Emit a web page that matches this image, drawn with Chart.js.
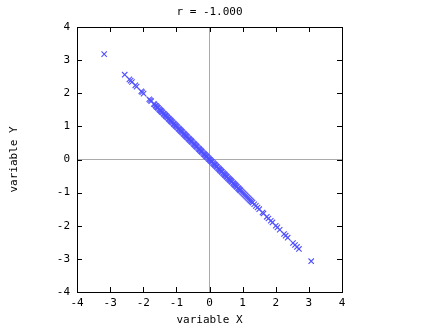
<!DOCTYPE html>
<html>
<head>
<meta charset="utf-8">
<script src="https://cdn.jsdelivr.net/npm/chart.js@4"></script>
<style>
  html, body { margin: 0; padding: 0; background: #fff; }
  #wrap { width: 448px; height: 336px; }
</style>
</head>
<body>
<div id="wrap"><canvas id="scatter" width="448" height="336"></canvas></div>
<script>
// values (dense band in the middle, sparse tails)
const xValues = [
  -3.18, -2.56, -2.42, -2.38, -2.34, -2.24, -2.20, -2.06, -2.03, -1.99, -1.82, -1.79, -1.76,
  -1.68, -1.66, -1.63, -1.61, -1.59, -1.57, -1.55, -1.52, -1.50, -1.48, -1.46, -1.44, -1.42,
  -1.39, -1.37, -1.35, -1.33, -1.31, -1.29, -1.27, -1.24, -1.22, -1.20, -1.18, -1.16, -1.14,
  -1.12, -1.09, -1.07, -1.05, -1.03, -1.01, -0.99, -0.97, -0.94, -0.92, -0.90, -0.88, -0.86,
  -0.84, -0.82, -0.79, -0.77, -0.75, -0.73, -0.71, -0.69, -0.67, -0.64, -0.62, -0.60, -0.58,
  -0.56, -0.54, -0.52, -0.49, -0.47, -0.45, -0.43, -0.41, -0.39, -0.37, -0.34, -0.32, -0.30,
  -0.28, -0.26, -0.24, -0.22, -0.19, -0.17, -0.15, -0.13, -0.11, -0.09, -0.07, -0.04, -0.02,
  0.00, 0.02, 0.04, 0.06, 0.08, 0.11, 0.13, 0.15, 0.17, 0.19, 0.21, 0.23, 0.26, 0.28, 0.30,
  0.32, 0.34, 0.36, 0.38, 0.41, 0.43, 0.45, 0.47, 0.49, 0.51, 0.53, 0.56, 0.58, 0.60, 0.62,
  0.64, 0.66, 0.68, 0.71, 0.73, 0.75, 0.77, 0.79, 0.81, 0.83, 0.86, 0.88, 0.90, 0.92, 0.94,
  0.97, 1.00, 1.03, 1.06, 1.09, 1.12, 1.15, 1.18, 1.21, 1.24, 1.27, 1.30,
  1.35, 1.40, 1.45, 1.50, 1.60, 1.63, 1.73, 1.78, 1.85, 1.90, 2.00, 2.05, 2.12, 2.25, 2.30,
  2.36, 2.52, 2.58, 2.64, 2.70, 3.07
];
const yValues = [
  3.18, 2.56, 2.42, 2.38, 2.34, 2.24, 2.20, 2.06, 2.03, 1.99, 1.82, 1.79, 1.76,
  1.68, 1.66, 1.63, 1.61, 1.59, 1.57, 1.55, 1.52, 1.50, 1.48, 1.46, 1.44, 1.42,
  1.39, 1.37, 1.35, 1.33, 1.31, 1.29, 1.27, 1.24, 1.22, 1.20, 1.18, 1.16, 1.14,
  1.12, 1.09, 1.07, 1.05, 1.03, 1.01, 0.99, 0.97, 0.94, 0.92, 0.90, 0.88, 0.86,
  0.84, 0.82, 0.79, 0.77, 0.75, 0.73, 0.71, 0.69, 0.67, 0.64, 0.62, 0.60, 0.58,
  0.56, 0.54, 0.52, 0.49, 0.47, 0.45, 0.43, 0.41, 0.39, 0.37, 0.34, 0.32, 0.30,
  0.28, 0.26, 0.24, 0.22, 0.19, 0.17, 0.15, 0.13, 0.11, 0.09, 0.07, 0.04, 0.02,
  0.00, -0.02, -0.04, -0.06, -0.08, -0.11, -0.13, -0.15, -0.17, -0.19, -0.21, -0.23, -0.26, -0.28, -0.30,
  -0.32, -0.34, -0.36, -0.38, -0.41, -0.43, -0.45, -0.47, -0.49, -0.51, -0.53, -0.56, -0.58, -0.60, -0.62,
  -0.64, -0.66, -0.68, -0.71, -0.73, -0.75, -0.77, -0.79, -0.81, -0.83, -0.86, -0.88, -0.90, -0.92, -0.94,
  -0.97, -1.00, -1.03, -1.06, -1.09, -1.12, -1.15, -1.18, -1.21, -1.24, -1.27, -1.30,
  -1.35, -1.40, -1.45, -1.50, -1.60, -1.63, -1.73, -1.78, -1.85, -1.90, -2.00, -2.05, -2.12, -2.25, -2.30,
  -2.36, -2.52, -2.58, -2.64, -2.70, -3.07
];
const axisTicks = [-4, -3, -2, -1, 0, 1, 2, 3, 4];
const titleText = 'r = -1.000';
const xTitle = 'variable X';
const yTitle = 'variable Y';

const mono = { family: "'DejaVu Sans Mono', 'Liberation Mono', monospace", size: 11, lineHeight: 1.2, weight: 'normal' };
const zeroGrey = 'rgb(170,170,170)';
const markBlue = 'rgb(80,80,255)';

// black frame with inward ticks on all four sides (gnuplot look)
const frameTicks = {
  id: 'frameTicks',
  afterDatasetsDraw(chart) {
    const { ctx, chartArea: a, scales } = chart;
    const len = 5;
    ctx.save();
    ctx.strokeStyle = '#000';
    ctx.lineWidth = 1;
    ctx.beginPath();
    axisTicks.forEach(v => {
      const px = Math.round(scales.x.getPixelForValue(v)) + 0.5;
      ctx.moveTo(px, a.bottom); ctx.lineTo(px, a.bottom - len);
      ctx.moveTo(px, a.top); ctx.lineTo(px, a.top + len);
      const py = Math.round(scales.y.getPixelForValue(v)) + 0.5;
      ctx.moveTo(a.left, py); ctx.lineTo(a.left + len, py);
      ctx.moveTo(a.right, py); ctx.lineTo(a.right - len, py);
    });
    ctx.stroke();
    ctx.strokeRect(Math.round(a.left) + 0.5, Math.round(a.top) + 0.5,
      Math.round(a.right - a.left), Math.round(a.bottom - a.top));
    ctx.restore();
  }
};

const zeroOnly = c => (c.tick && c.tick.value === 0) ? zeroGrey : 'rgba(0,0,0,0)';

new Chart(document.getElementById('scatter'), {
  type: 'scatter',
  data: {
    datasets: [{
      data: xValues.map((x, i) => ({ x: x, y: yValues[i] })),
      pointStyle: 'crossRot',
      radius: 3.8,
      hoverRadius: 3.8,
      borderWidth: 1.1,
      borderColor: markBlue,
      backgroundColor: markBlue
    }]
  },
  options: {
    responsive: false,
    animation: false,
    layout: { padding: { left: 0, top: 0, right: 106, bottom: 0 } },
    plugins: {
      legend: { display: false },
      tooltip: { enabled: false },
      title: {
        display: true,
        text: titleText,
        fullSize: false,
        color: '#000',
        font: mono,
        padding: { top: 5.5, bottom: 8.3 }
      }
    },
    scales: {
      x: {
        type: 'linear',
        min: -4, max: 4,
        afterBuildTicks: s => { s.ticks = axisTicks.map(v => ({ value: v })); },
        afterFit: s => { s.height = 44; },
        grid: { color: zeroOnly, drawTicks: false, lineWidth: 1 },
        border: { display: false },
        ticks: { color: '#000', font: mono, padding: 5, maxRotation: 0 },
        title: { display: true, text: xTitle, color: '#000', font: mono, padding: { top: 0, bottom: 9.4 } }
      },
      y: {
        type: 'linear',
        min: -4, max: 4,
        afterBuildTicks: s => { s.ticks = axisTicks.map(v => ({ value: v })); },
        afterFit: s => { s.width = 77; },
        grid: { color: zeroOnly, drawTicks: false, lineWidth: 1 },
        border: { display: false },
        ticks: { color: '#000', font: mono, padding: 7 },
        title: { display: true, text: yTitle, color: '#000', font: mono, padding: { top: 7.4, bottom: 0 } }
      }
    }
  },
  plugins: [frameTicks]
});
</script>
</body>
</html>
